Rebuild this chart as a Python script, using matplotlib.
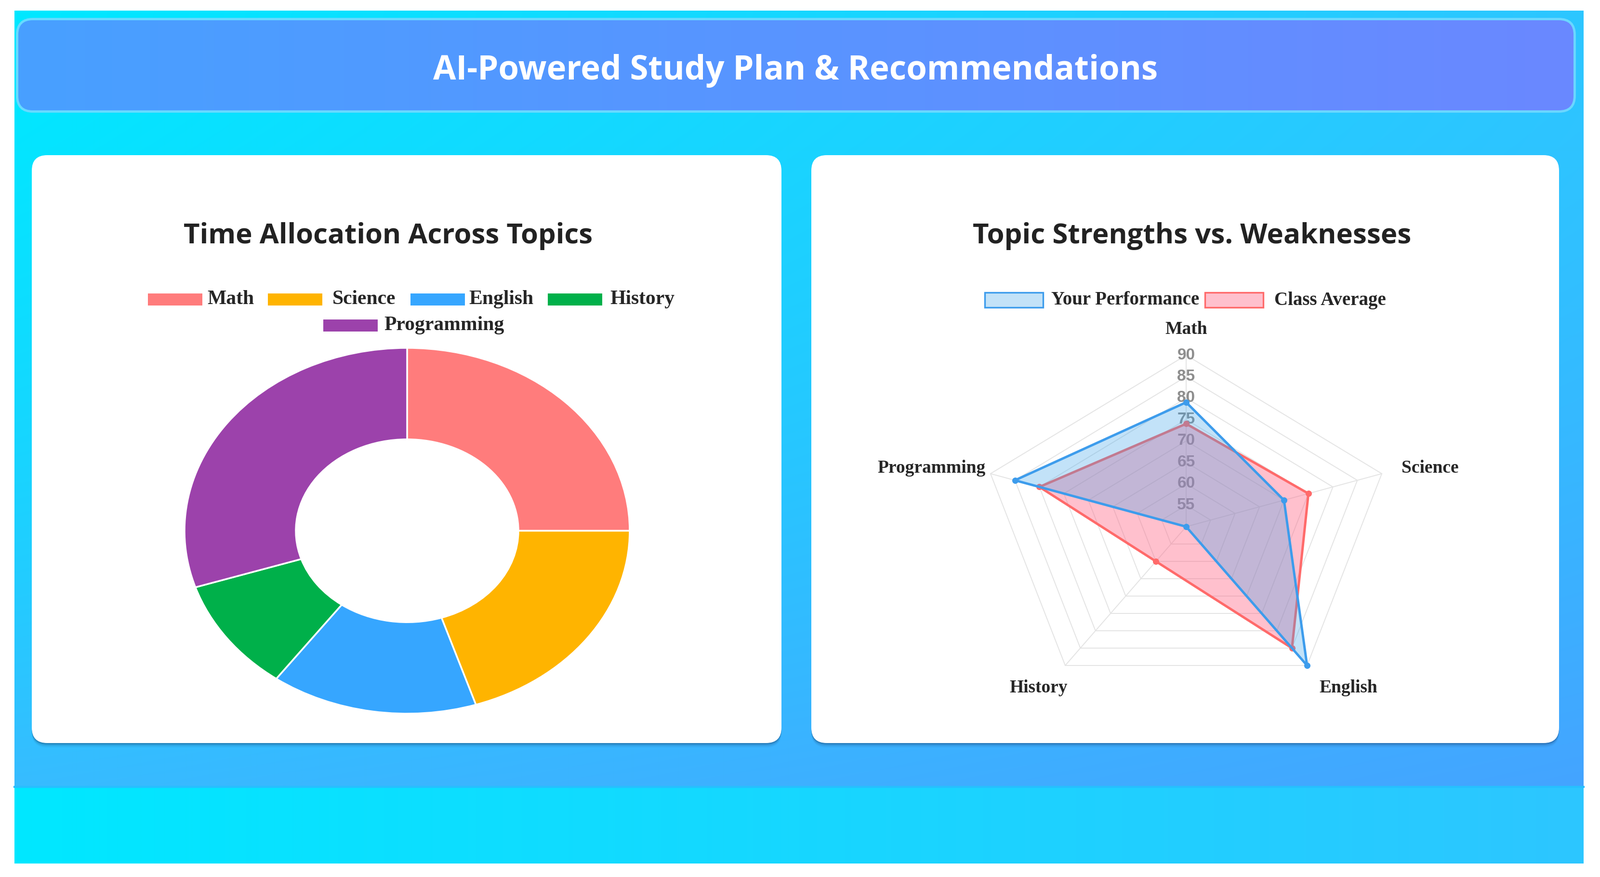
import numpy as np
import matplotlib
matplotlib.use('Agg')
import matplotlib.pyplot as plt
from matplotlib.patches import FancyBboxPatch, Rectangle

# ---------------- data ----------------
main_title = 'AI-Powered Study Plan & Recommendations'
left_title = 'Time Allocation Across Topics'
right_title = 'Topic Strengths vs. Weaknesses'

topics = ['Math', 'Science', 'English', 'History', 'Programming']
time_share = [25, 20, 15, 10, 30]
topic_colors = ['#FF7C7C', '#FFB400', '#36A6FF', '#00B04A', '#9C42AB']

radar_labels = ['Math', 'Science', 'English', 'History', 'Programming']
your_perf = [79, 70, 90, 50, 85]
class_avg = [74, 75, 85, 60, 80]
series_names = ['Your Performance', 'Class Average']
series_line = ['#3D9CEC', '#FF6A6A']
series_fill = [(54/255, 162/255, 235/255, 0.30), (255/255, 99/255, 132/255, 0.40)]
radar_ticks = [55, 60, 65, 70, 75, 80, 85, 90]
radar_min, radar_max = 50, 90

# ---------------- figure / background ----------------
W, H = 3321, 1820
fig = plt.figure(figsize=(W / 100, H / 100), dpi=100)
fig.patch.set_facecolor('white')
bg = fig.add_axes([0, 0, 1, 1])
bg.set_xlim(0, W)
bg.set_ylim(H, 0)
bg.axis('off')

gx0, gx1, gy0, gy1 = 30, 3287, 22, 1792
cont_bottom = 1633
nh, nw = 400, 800
ys = np.linspace(gy0, gy1, nh)[:, None, None]
xs = np.linspace(0, 1, nw)[None, :, None]
body_l = np.array([0, 232, 255.0]); body_r = np.array([45, 198, 255.0])
bot_l = np.array([55, 188, 255.0]); bot_r = np.array([68, 164, 255.0])
body = body_l * (1 - xs) + body_r * xs
bottom = bot_l * (1 - xs) + bot_r * xs
t = np.clip((ys - gy0) / (cont_bottom - gy0), 0, 1) ** 1.5
img = np.where(ys < cont_bottom, body * (1 - t) + bottom * t, body)
img = np.broadcast_to(img, (nh, nw, 3)) / 255.0
bg.imshow(img, extent=(gx0, gx1, gy1, gy0), aspect='auto',
          interpolation='bilinear', zorder=0)
bg.plot([gx0, gx1], [cont_bottom, cont_bottom], color=(0.15, 0.75, 1.0), lw=3, zorder=1)

# header banner
hx0, hy0, hx1, hy1 = 38, 42, 3266, 229
glow = FancyBboxPatch((hx0, hy0), hx1 - hx0, hy1 - hy0,
                      boxstyle='round,pad=0,rounding_size=30',
                      facecolor='none', edgecolor=(0.45, 0.85, 1.0, 0.9),
                      lw=7, zorder=2)
bg.add_patch(glow)
hdr = FancyBboxPatch((hx0, hy0), hx1 - hx0, hy1 - hy0,
                     boxstyle='round,pad=0,rounding_size=30',
                     facecolor='none', edgecolor='none', zorder=3)
bg.add_patch(hdr)
hgx = np.linspace(0, 1, 300)[None, :, None]
hcol = (np.array([72, 160, 255.0]) * (1 - hgx) + np.array([106, 136, 255.0]) * hgx) / 255
hcol = np.broadcast_to(hcol, (2, 300, 3))
him = bg.imshow(hcol, extent=(hx0, hx1, hy1, hy0), aspect='auto',
                interpolation='bilinear', zorder=3)
him.set_clip_path(hdr)

# cards
cards = [(66, 322, 1622, 1542), (1684, 322, 3236, 1542)]
for (x0, y0, x1, y1) in cards:
    for k, a in [(9, 0.06), (6, 0.10), (3, 0.22)]:
        sh = FancyBboxPatch((x0, y0 + k), x1 - x0, y1 - y0,
                            boxstyle='round,pad=0,rounding_size=32',
                            facecolor=(0.05, 0.15, 0.3, a), edgecolor='none', zorder=4)
        bg.add_patch(sh)
    card = FancyBboxPatch((x0, y0), x1 - x0, y1 - y0,
                          boxstyle='round,pad=0,rounding_size=32',
                          facecolor='white', edgecolor='none', zorder=5)
    bg.add_patch(card)

renderer = fig.canvas.get_renderer()


def fit(txt, target_w):
    w = txt.get_window_extent(renderer=renderer).width
    txt.set_fontsize(txt.get_fontsize() * target_w / w)


title_font = ['Open Sans', 'DejaVu Sans']
t0 = bg.text(1651, 147, main_title, ha='center', va='center', color='white',
             fontsize=46, fontweight='bold', family=title_font, zorder=6)
fit(t0, 1505)
t1 = bg.text(806, 490, left_title, ha='center', va='center', color='#222222',
             fontsize=36, fontweight='bold', family=title_font, zorder=6)
fit(t1, 850)
t2 = bg.text(2474, 490, right_title, ha='center', va='center', color='#222222',
             fontsize=36, fontweight='bold', family=title_font, zorder=6)
fit(t2, 911)

serif = ['Liberation Serif', 'DejaVu Serif']

# left legend (layout positions only)
leg_box_x = [307, 556, 852, 1137, 671]
leg_text_x = [430, 690, 973, 1266, 797]
leg_row_y = [621, 621, 621, 621, 675]
for name, col, bx, tx, yy in zip(topics, topic_colors, leg_box_x, leg_text_x, leg_row_y):
    bg.add_patch(Rectangle((bx, yy - 12), 113, 25, facecolor=col, edgecolor='none', zorder=6))
    bg.text(tx, yy, name, ha='left', va='center', fontsize=30, fontweight='bold',
            family=serif, color='#262626', zorder=6)

# right legend
rleg_box_x = [2044, 2501]
rleg_text_x = [2182, 2645]
for name, lc, fc, bx, tx in zip(series_names, series_line, series_fill, rleg_box_x, rleg_text_x):
    bg.add_patch(Rectangle((bx, 607), 121, 31, facecolor=fc, edgecolor=lc, lw=2.4, zorder=6))
    bg.text(tx, 623, name, ha='left', va='center', fontsize=28, fontweight='bold',
            family=serif, color='#262626', zorder=6)

# ---------------- donut ----------------
dl, dt, dw, dh = 383, 722, 924, 759
axd = fig.add_axes([dl / W, (H - dt - dh) / H, dw / W, dh / H])
axd.pie(time_share, colors=topic_colors, startangle=90, counterclock=False,
        wedgeprops=dict(width=0.5, edgecolor='white', linewidth=2.5))
axd.set_aspect('auto')
axd.set_xlim(-1.0, 1.0)
axd.set_ylim(-1.0, 1.0)
axd.axis('off')

# ---------------- radar ----------------
cx, cy, sx, sy = 2462, 1093, 427, 356
xl, yl = 1.6, 1.3
axr = fig.add_axes([(cx - xl * sx) / W, (H - (cy + yl * sy)) / H, 2 * xl * sx / W, 2 * yl * sy / H])
axr.set_xlim(-xl, xl)
axr.set_ylim(-yl, yl)
axr.set_aspect('auto')
axr.axis('off')
axr.patch.set_alpha(0)

n = len(radar_labels)
ang = np.arange(n) * 2 * np.pi / n


def to_xy(vals):
    r = (np.asarray(vals, dtype=float) - radar_min) / (radar_max - radar_min)
    return r * np.sin(ang), r * np.cos(ang)


grid_col = '#e4e4e4'
for tk in radar_ticks:
    gx, gy = to_xy([tk] * n)
    axr.plot(np.append(gx, gx[0]), np.append(gy, gy[0]), color=grid_col, lw=1.4, zorder=1)
ox, oy = to_xy([radar_max] * n)
for x_, y_ in zip(ox, oy):
    axr.plot([0, x_], [0, y_], color=grid_col, lw=1.4, zorder=1)
for tk in radar_ticks:
    axr.text(0, (tk - radar_min) / (radar_max - radar_min), str(tk), ha='center', va='center',
             fontsize=24, fontweight='bold', color='#8e8e8e',
             family=['Liberation Sans', 'DejaVu Sans'], zorder=2)

for vals, lc, fc, z in [(class_avg, series_line[1], series_fill[1], 3),
                        (your_perf, series_line[0], series_fill[0], 4)]:
    px, py = to_xy(vals)
    axr.fill(px, py, color=fc, lw=0, zorder=z)
    axr.plot(np.append(px, px[0]), np.append(py, py[0]), color=lc, lw=3.6, zorder=z,
             solid_joinstyle='round')
    axr.scatter(px, py, s=70, color=lc, zorder=z + 0.5, edgecolors=lc)

lr = 1.1
for lab, a in zip(radar_labels, ang):
    s, c = np.sin(a), np.cos(a)
    if abs(s) < 1e-6:
        ha, va, dx = 'center', 'bottom', 0.0
    else:
        ha = 'left' if s > 0 else 'right'
        dx = 0.0 if s > 0 else 0.07
        va = 'center' if c > 0 else 'top'
    axr.text(lr * s + dx, lr * c, lab, ha=ha, va=va, fontsize=27, fontweight='bold',
             family=serif, color='#262626', zorder=6)

fig.savefig('out.png', dpi=100, facecolor='white')
